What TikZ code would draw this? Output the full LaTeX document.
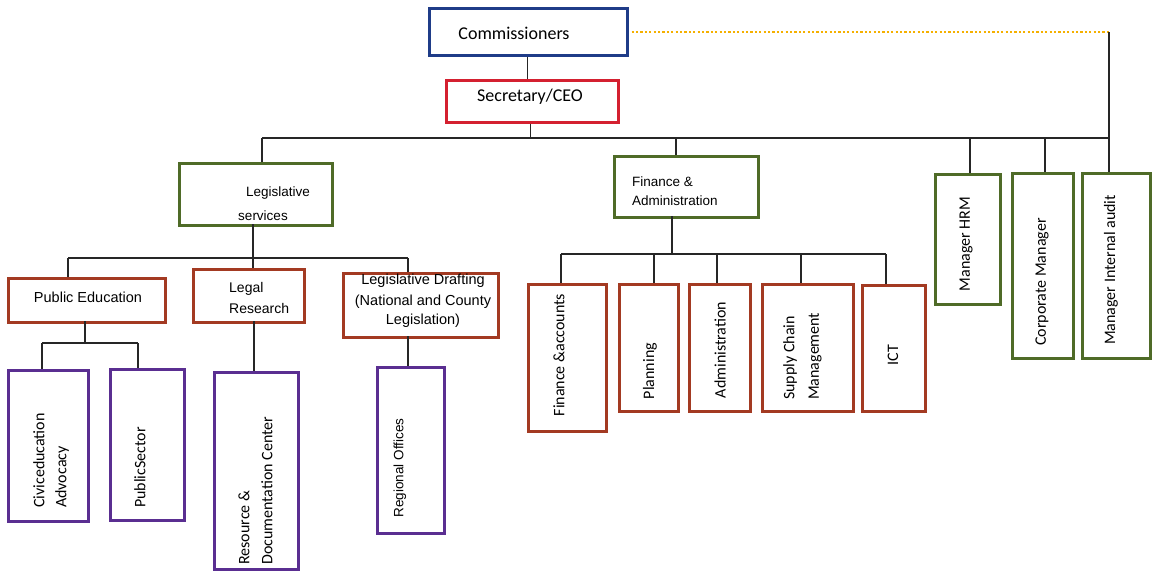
\documentclass[tikz,border=0pt]{standalone}
\usepackage{fontspec}
\setmainfont{Liberation Sans}
\newfontfamily\calfnt{Carlito}
\newfontfamily\arifnt{Liberation Sans}
\definecolor{cblue}{HTML}{1F3C88}
\definecolor{cred}{HTML}{D42030}
\definecolor{cgreen}{HTML}{4F6B28}
\definecolor{cbrown}{HTML}{A33A22}
\definecolor{cpurple}{HTML}{5A2E91}
\definecolor{corange}{HTML}{F5B000}
\newcommand\bx[6]{\node[box,draw=#6,minimum width={(#4-#2)*1pt},minimum height={(#5-#3)*1pt}] (#1) at (#2,#3) {};}
\begin{document}
\begin{tikzpicture}[x=1pt,y=-1pt,
  box/.style={line width=2.6pt,fill=white,inner sep=0pt,anchor=north west},
  conn/.style={line width=1.3pt,black!85},
  cl/.style={font=\calfnt\fontsize{18}{20}\selectfont,inner sep=0pt},
  rl/.style={font=\calfnt\fontsize{16}{18}\selectfont,inner sep=0pt,rotate=90},
  al/.style={font=\arifnt\fontsize{14}{16}\selectfont,inner sep=0pt},
  ra/.style={font=\arifnt\fontsize{13.5}{15}\selectfont,inner sep=0pt,rotate=90}]
\useasboundingbox (0,0) rectangle (1156,574);
\fill[white] (0,0) rectangle (1156,574);
\coordinate (dotend) at (1109,32);
\coordinate (bus0) at (262,138);
\coordinate (bus1) at (1109,138);
\coordinate (lb) at (68,258);
\coordinate (rb) at (408,258);
\coordinate (pl) at (42,343);
\coordinate (pr) at (138,343);
\coordinate (fl) at (561,254);
\coordinate (fr) at (886,254);
% boxes
\bx{comm}{428}{7}{626}{54}{cblue}
\bx{sec}{445}{79}{617}{121}{cred}
\bx{legs}{178}{162}{331}{224}{cgreen}
\bx{fin}{613}{155}{757}{216}{cgreen}
\bx{hrm}{934}{173}{999}{303}{cgreen}
\bx{corp}{1011}{172}{1072}{357}{cgreen}
\bx{audit}{1081}{172}{1149}{357}{cgreen}
\bx{pubed}{7}{277}{164}{321}{cbrown}
\bx{legal}{192}{268}{303}{321}{cbrown}
\bx{draft}{342}{272}{497}{336}{cbrown}
\bx{civic}{7}{369}{87}{520}{cpurple}
\bx{pubsec}{109}{368}{183}{519}{cpurple}
\bx{resdoc}{213}{371}{297}{568}{cpurple}
\bx{region}{376}{366}{443}{532}{cpurple}
\bx{finacc}{527}{283}{605}{430}{cbrown}
\bx{plan}{618}{283}{677}{410}{cbrown}
\bx{admin}{688}{283}{749}{410}{cbrown}
\bx{supply}{761}{283}{852}{410}{cbrown}
\bx{ict}{861}{284}{924}{410}{cbrown}
% connectors
\draw[conn] ([xshift=-1pt]comm.south) -- ([xshift=-1pt]comm.south |- sec.north);
\draw[conn] ([xshift=-2pt]sec.south) -- ([xshift=-2pt]sec.south |- bus0);
\draw[conn] (bus0) -- (bus1);
\draw[corange,line width=2.6pt,dash pattern=on 2.2pt off 2.2pt] ([xshift=3pt]comm.east |- dotend) -- (dotend);
\draw[conn] (dotend) -- (dotend |- audit.north);
\draw[conn] (bus0) -- (bus0 |- legs.north);
\draw[conn] (676,138) -- (676,155);
\draw[conn] (970,138) -- (970,173);
\draw[conn] (1045,138) -- (1045,172);
% legislative branch
\draw[conn] (253,224) -- (253,268);
\draw[conn] (lb) -- (rb);
\draw[conn] (lb) -- (lb |- pubed.north);
\draw[conn] (rb) -- (rb |- draft.north);
\draw[conn] (85,321) -- (85,343);
\draw[conn] (pl) -- (pr);
\draw[conn] (pl) -- (pl |- civic.north);
\draw[conn] (pr) -- (pr |- pubsec.north);
\draw[conn] (254,321) -- (254,371);
\draw[conn] (408,336) -- (408,366);
% finance branch
\draw[conn] (672,216) -- (672,254);
\draw[conn] (fl) -- (fr);
\draw[conn] (fl) -- (fl |- finacc.north);
\draw[conn] (654,254) -- (654,283);
\draw[conn] (717,254) -- (717,283);
\draw[conn] (801,254) -- (801,283);
\draw[conn] (fr) -- (fr |- ict.north);
% texts
\node[cl] (t1) at (514,33) {Commissioners};
\node[cl] (t2) at (530,97) {Secretary/CEO};
\node[al] (t3) at (278,193) {\fontsize{13.5}{15}\selectfont Legislative};
\node[al] (t4) at (263,216) {\fontsize{13.5}{15}\selectfont services};
\node[al,anchor=west] (t5) at (632,182) {\fontsize{13.5}{15}\selectfont Finance \&};
\node[al,anchor=west] (t6) at (632,201) {\fontsize{13.5}{15}\selectfont Administration};
\node[al] (t7) at (88,297) {\fontsize{14.5}{16}\selectfont Public Education};
\node[al,anchor=west] (t8) at (229,289) {Legal};
\node[al,anchor=west] (t9) at (229,308) {Research};
\node[al] (t10) at (423,281) {\fontsize{14.5}{16}\selectfont Legislative Drafting};
\node[al] (t11) at (423,302) {\fontsize{14.5}{16}\selectfont (National and County};
\node[al] (t12) at (423,321) {\fontsize{14.5}{16}\selectfont Legislation)};
\node[rl] (r1) at (559,355) {Finance \&accounts};
\node[rl] (r2) at (650,371) {Planning};
\node[rl] (r3) at (720,350) {Administration};
\node[rl,anchor=west] (r4) at (790,400) {Supply Chain};
\node[rl,anchor=west] (r5) at (815,400) {Management};
\node[rl] (r6) at (893,355) {ICT};
\node[rl] (r7) at (966,244) {Manager HRM};
\node[rl] (r8) at (1042,282) {Corporate Manager};
\node[rl] (r9) at (1111,270) {Manager Internal audit};
\node[rl,anchor=west] (r10) at (39,508) {Civiceducation};
\node[rl,anchor=west] (r11) at (62,508) {Advocacy};
\node[rl,anchor=west] (r12) at (140,508) {PublicSector};
\node[rl,anchor=west] (r13) at (244,565) {Resource \&};
\node[rl,anchor=west] (r14) at (267,565) {Documentation Center};
\node[ra] (r15) at (400,468) {Regional Offices};
\end{tikzpicture}
\end{document}
